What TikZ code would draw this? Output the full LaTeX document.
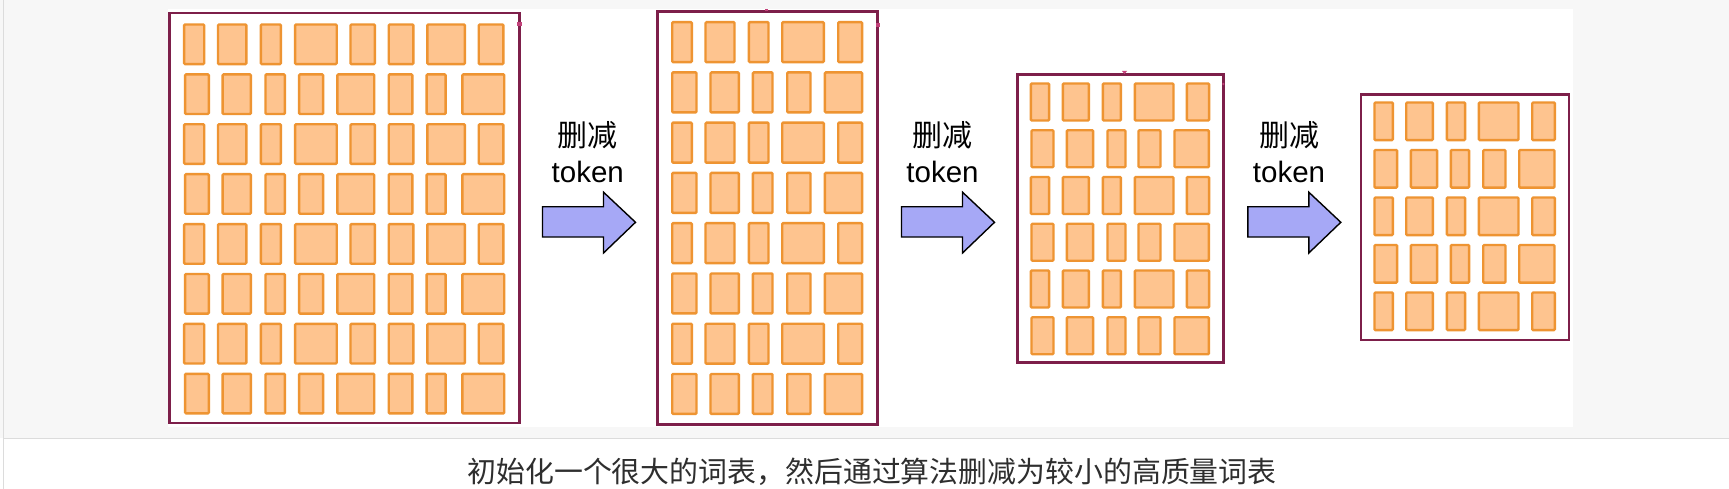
\documentclass[tikz,border=0pt]{standalone}
\usepackage{fontspec}
\newfontfamily\cjk{Noto Sans CJK SC}
\newfontfamily\arialf{Liberation Sans}
\definecolor{pagegray}{HTML}{F7F7F7}
\definecolor{rulegray}{HTML}{DCDCDC}
\definecolor{framec}{HTML}{7D1F4A}
\definecolor{tokline}{HTML}{EE9432}
\definecolor{tokfill}{HTML}{FEC48F}
\definecolor{arrowfill}{HTML}{A6A8F6}
\definecolor{pinkc}{HTML}{C2417A}
\definecolor{captionc}{HTML}{2E2E2E}
\tikzset{
  tok/.style={draw=tokline, fill=tokfill, line width=2.4pt, rounded corners=1pt},
  frame/.style={draw=framec, line width=2.6pt, fill=white},
  bigarrow/.style={draw=black, fill=arrowfill, line width=1.4pt, line join=miter},
  lbl/.style={inner sep=0pt, text=black},
}
% #1 top y, #2 pitch, #3 height, #4 last row index, #5 pattern A, #6 pattern B
\newcommand\tokgrid[6]{%
  \foreach \r in {0,...,#4}{%
    \pgfmathsetmacro\yt{#1+#2*\r+1.2}%
    \pgfmathsetmacro\yb{#1+#2*\r+#3-1.2}%
    \ifodd\r\relax\def\pat{#6}\else\def\pat{#5}\fi
    \foreach \a/\b in \pat {\draw[tok] (\a+1.2,\yt) rectangle (\b-1.2,\yb);}%
  }%
}
\newcommand\bigarr[2]{% #1 left x, #2 name
  \draw[bigarrow] (#1,206.8) -- (#1+61,206.8) -- (#1+61,192.2) -- (#1+93,222.3)
     -- (#1+61,253) -- (#1+61,237) -- (#1,237) -- cycle;
  \coordinate (#2) at (#1+46,222.3);
}
\begin{document}
\begin{tikzpicture}[x=1pt,y=-1pt]
\useasboundingbox (0,0) rectangle (1729,489);
% page background
\fill[white] (0,0) rectangle (1729,489);
\fill[pagegray] (0,0) rectangle (1729,438.3);
\draw[rulegray, line width=1.3pt] (3.7,438.3) -- (1729,438.3);
\draw[rulegray, line width=1.3pt] (3.7,0) -- (3.7,489);
% image area
\fill[white] (167.5,9.3) rectangle (1573,426.7);

% ---- vocabulary 1 ----
\draw[frame] (169.5,13) rectangle (519.5,422.8);
\tokgrid{23.3}{49.9}{42}{7}%
  {182.9/205.4,216.8/247.5,259.6/282.1,293.9/337.9,349.3/376.1,387.5/414.6,426.1/466.1,477.5/504.6}%
  {183.9/210,221.4/252.1,264.3/286.1,297.9/324.3,336.1/375.4,387.5/413.6,425.4/446.8,461.1/505.4}
\fill[pinkc] (517.3,22.3) rectangle (521.5,26.3);

% ---- vocabulary 2 ----
\draw[frame] (657.7,11.7) rectangle (877.7,424.3);
\tokgrid{21}{50.25}{42.3}{7}%
  {671/693,704.3/735.7,747.7/769.7,781/825,837/863.3}%
  {671/697.7,709.3/740,751.7/773.7,786/811.7,823.7/863.3}
\fill[pinkc] (875.6,23) rectangle (879.8,27);
\fill[pinkc] (764.5,9) rectangle (767.5,11.5);

% ---- vocabulary 3 ----
\draw[frame] (1017.7,74.3) rectangle (1223.3,362.3);
\tokgrid{82.3}{46.75}{39.4}{5}%
  {1029.7/1050.3,1061.7/1090,1101.7/1122,1133.7/1174.7,1185.7/1210.3}%
  {1030.3/1054.7,1065.7/1094.3,1106.3/1126.7,1137.3/1161.7,1173.3/1210}
\fill[pinkc] (1122,71) -- (1127,71) -- (1124.5,74) -- cycle;
\fill[pinkc] (1223.3,84) circle (1.3);

% ---- vocabulary 4 ----
\draw[frame] (1361,94.7) rectangle (1569,340);
\tokgrid{101.3}{47.5}{40}{4}%
  {1373.3/1394,1405/1434,1445.7/1466.3,1477.7/1519.7,1531/1556}%
  {1373.3/1398.3,1409.7/1438.3,1449.7/1470.3,1482/1506.7,1518/1555.7}

% ---- arrows and labels ----
\bigarr{542.5}{a1}
\bigarr{901.5}{a2}
\bigarr{1247.8}{a3}
\node[lbl, font=\cjk\fontsize{30}{32}\selectfont] (c1) at (587.8,135.5) {删减};
\node[lbl, font=\arialf\fontsize{29.5}{32}\selectfont, anchor=base] (t1) at (587.8,182.3) {token};
\node[lbl, font=\cjk\fontsize{30}{32}\selectfont] (c2) at (942.5,135.5) {删减};
\node[lbl, font=\arialf\fontsize{29.5}{32}\selectfont, anchor=base] (t2) at (942.5,182.3) {token};
\node[lbl, font=\cjk\fontsize{30}{32}\selectfont] (c3) at (1289,135.5) {删减};
\node[lbl, font=\arialf\fontsize{29.5}{32}\selectfont, anchor=base] (t3) at (1289,182.3) {token};

% ---- caption ----
\node[inner sep=0pt, text=captionc, font=\cjk\fontsize{28.9}{34}\selectfont] (cap) at (872,472.2)
  {初始化一个很大的词表，然后通过算法删减为较小的高质量词表};
\end{tikzpicture}
\end{document}
